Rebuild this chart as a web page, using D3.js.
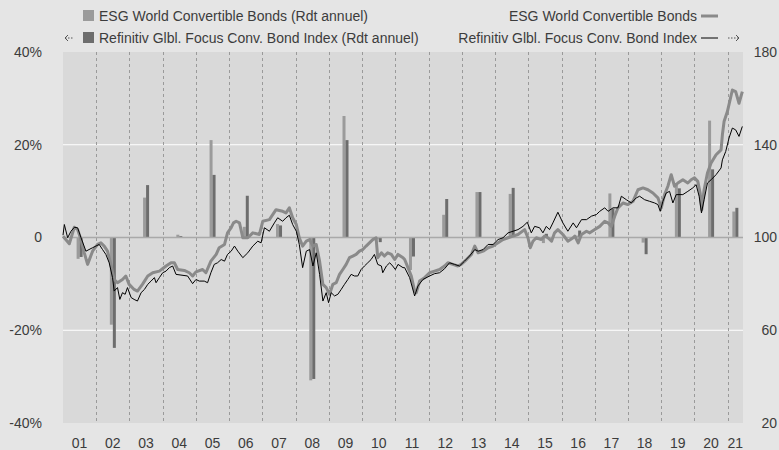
<!DOCTYPE html>
<html>
<head>
<meta charset="utf-8">
<script src="https://cdn.jsdelivr.net/npm/d3@7"></script>
<style>
  body { margin: 0; background: #e5e5e5; }
  svg { display: block; font-family: "Liberation Sans", Arial, sans-serif; }
</style>
</head>
<body>
<svg id="chart" width="779" height="450"></svg>
<script>
// annual returns (bars), in %
var years = [2001, 2002, 2003, 2004, 2005, 2006, 2007, 2008, 2009, 2010, 2011,
             2012, 2013, 2014, 2015, 2016, 2017, 2018, 2019, 2020, 2021];
var esgAnnual = [-4.6, -18.8, 8.6, 0.6, 21.0, 2.3, 2.9, -30.8, 26.2, -0.4, -7.0,
                 4.9, 9.8, 9.4, -1.2, 0.4, 9.5, -1.1, 11.7, 25.2, 5.6];
var refAnnual = [-4.2, -23.8, 11.3, 0.3, 13.5, 9.0, 2.6, -30.5, 21.0, -1.0, -4.1,
                 8.3, 9.8, 10.7, 0.8, 1.5, 6.2, -3.6, 10.6, 14.7, 6.4];

// index levels (lines), [decimal year, value]
var esgIndex = [
  [2001.00, 100.5], [2001.19, 97.3], [2001.34, 104.4], [2001.44, 103.4], [2001.54, 99.1],
  [2001.64, 93.4], [2001.74, 88.4], [2001.89, 94.1], [2002.04, 97.0], [2002.14, 97.7],
  [2002.24, 96.3], [2002.34, 94.1], [2002.44, 88.4], [2002.54, 81.9], [2002.64, 80.5],
  [2002.79, 81.9], [2002.89, 83.4], [2002.99, 79.8], [2003.14, 77.6], [2003.24, 76.9],
  [2003.39, 79.8], [2003.55, 83.4], [2003.70, 84.8], [2003.90, 85.5], [2004.10, 87.7],
  [2004.25, 89.1], [2004.35, 89.1], [2004.45, 86.2], [2004.65, 85.8], [2004.80, 84.8],
  [2004.90, 83.4], [2005.00, 85.2], [2005.20, 86.2], [2005.30, 84.8], [2005.45, 89.8],
  [2005.61, 92.7], [2005.70, 95.6], [2005.86, 97.0], [2005.95, 102.0], [2006.05, 104.0],
  [2006.13, 106.3], [2006.21, 107.0], [2006.31, 106.3], [2006.41, 99.9], [2006.56, 99.9],
  [2006.71, 102.0], [2006.91, 101.3], [2007.01, 107.0], [2007.21, 107.7], [2007.41, 112.0],
  [2007.61, 111.3], [2007.71, 110.6], [2007.81, 112.8], [2007.91, 108.5], [2008.02, 105.6],
  [2008.11, 99.9], [2008.21, 96.3], [2008.32, 98.4], [2008.42, 99.1], [2008.52, 96.3],
  [2008.62, 97.0], [2008.72, 89.8], [2008.82, 79.8], [2008.92, 78.4], [2009.02, 75.5],
  [2009.12, 79.8], [2009.22, 80.5], [2009.32, 84.1], [2009.42, 86.2], [2009.52, 88.4],
  [2009.62, 91.3], [2009.72, 92.0], [2009.82, 92.7], [2009.92, 94.1], [2010.02, 94.8],
  [2010.12, 96.3], [2010.22, 97.7], [2010.32, 99.1], [2010.42, 99.9], [2010.47, 91.3],
  [2010.58, 93.4], [2010.67, 92.0], [2010.77, 93.4], [2010.88, 92.7], [2010.98, 90.5],
  [2011.08, 92.7], [2011.23, 91.3], [2011.28, 90.5], [2011.38, 87.0], [2011.48, 83.4],
  [2011.58, 76.9], [2011.63, 76.2], [2011.73, 81.2], [2011.88, 82.7], [2012.03, 84.8],
  [2012.18, 85.5], [2012.33, 86.2], [2012.48, 87.7], [2012.58, 89.1], [2012.73, 88.4],
  [2012.88, 87.7], [2012.98, 88.4], [2013.14, 90.5], [2013.29, 92.7], [2013.39, 96.3],
  [2013.49, 93.4], [2013.64, 94.1], [2013.79, 95.6], [2013.94, 96.3], [2014.09, 97.7],
  [2014.24, 99.1], [2014.39, 99.9], [2014.54, 100.6], [2014.69, 101.3], [2014.89, 103.4],
  [2014.99, 99.9], [2015.06, 95.6], [2015.14, 98.4], [2015.24, 99.9], [2015.39, 99.1],
  [2015.49, 100.6], [2015.59, 99.9], [2015.70, 98.4], [2015.79, 102.0], [2015.89, 103.4],
  [2016.04, 101.3], [2016.19, 98.4], [2016.35, 99.9], [2016.40, 100.6], [2016.50, 97.7],
  [2016.60, 101.3], [2016.75, 102.7], [2016.85, 102.0], [2017.00, 103.4], [2017.15, 104.8],
  [2017.30, 107.0], [2017.40, 106.3], [2017.50, 104.8], [2017.60, 109.2], [2017.70, 112.8],
  [2017.85, 114.9], [2018.00, 114.2], [2018.15, 115.6], [2018.30, 120.6], [2018.45, 121.4],
  [2018.60, 120.6], [2018.75, 119.2], [2018.90, 117.1], [2019.00, 112.8], [2019.10, 118.5],
  [2019.20, 122.1], [2019.30, 127.1], [2019.40, 122.1], [2019.50, 123.5], [2019.65, 124.9],
  [2019.80, 123.5], [2019.90, 124.9], [2020.00, 125.7], [2020.10, 124.2], [2020.17, 119.2],
  [2020.22, 112.0], [2020.29, 120.6], [2020.39, 127.8], [2020.50, 132.1], [2020.65, 135.7],
  [2020.80, 137.8], [2020.84, 144.3], [2020.89, 150.0], [2020.99, 154.3], [2021.14, 163.6],
  [2021.24, 162.9], [2021.34, 157.9], [2021.44, 162.9]
];
var refIndex = [
  [2001.00, 101.0], [2001.04, 105.6], [2001.14, 99.9], [2001.24, 102.7], [2001.34, 104.4],
  [2001.44, 104.2], [2001.54, 100.0], [2001.69, 94.1], [2001.89, 95.6], [2001.99, 96.3],
  [2002.09, 97.0], [2002.19, 94.8], [2002.29, 92.7], [2002.39, 89.1], [2002.49, 82.7],
  [2002.54, 76.9], [2002.64, 78.4], [2002.71, 73.3], [2002.79, 76.2], [2002.87, 75.5],
  [2002.94, 78.4], [2003.05, 74.1], [2003.14, 73.3], [2003.24, 72.6], [2003.35, 76.2],
  [2003.45, 77.6], [2003.55, 79.8], [2003.65, 81.2], [2003.75, 82.7], [2003.80, 80.5],
  [2003.90, 82.7], [2004.00, 84.8], [2004.10, 85.5], [2004.20, 87.0], [2004.30, 87.7],
  [2004.40, 84.1], [2004.55, 83.8], [2004.75, 83.4], [2004.90, 80.1], [2005.00, 81.9],
  [2005.10, 81.2], [2005.25, 81.2], [2005.35, 80.5], [2005.45, 84.8], [2005.55, 88.4],
  [2005.65, 89.1], [2005.76, 90.5], [2005.86, 89.8], [2005.95, 92.7], [2006.06, 94.1],
  [2006.16, 96.3], [2006.26, 94.1], [2006.41, 91.3], [2006.56, 93.4], [2006.71, 96.3],
  [2006.86, 98.4], [2006.96, 97.7], [2007.06, 104.2], [2007.21, 102.7], [2007.36, 106.3],
  [2007.46, 108.5], [2007.61, 107.0], [2007.71, 108.5], [2007.81, 109.6], [2007.91, 105.6],
  [2008.02, 102.7], [2008.11, 97.0], [2008.21, 87.0], [2008.32, 94.1], [2008.42, 94.8],
  [2008.52, 87.7], [2008.62, 93.4], [2008.72, 84.1], [2008.82, 72.6], [2008.92, 76.2],
  [2008.99, 71.9], [2009.07, 76.2], [2009.17, 74.8], [2009.27, 75.5], [2009.37, 77.6],
  [2009.47, 79.8], [2009.57, 81.9], [2009.67, 84.1], [2009.77, 83.4], [2009.87, 83.4],
  [2009.97, 86.2], [2010.07, 87.7], [2010.17, 89.1], [2010.27, 90.5], [2010.37, 92.7],
  [2010.47, 88.4], [2010.58, 87.7], [2010.62, 84.8], [2010.73, 87.7], [2010.83, 89.1],
  [2010.92, 87.7], [2011.00, 86.2], [2011.08, 88.4], [2011.23, 87.0], [2011.28, 87.0],
  [2011.43, 82.7], [2011.58, 74.8], [2011.68, 79.1], [2011.83, 81.9], [2012.03, 83.4],
  [2012.18, 84.4], [2012.33, 84.8], [2012.48, 86.5], [2012.63, 89.1], [2012.78, 88.4],
  [2012.93, 87.7], [2013.08, 89.8], [2013.23, 92.0], [2013.39, 94.8], [2013.49, 94.1],
  [2013.64, 94.8], [2013.79, 97.0], [2013.94, 97.0], [2014.09, 99.1], [2014.24, 99.9],
  [2014.39, 102.0], [2014.54, 102.7], [2014.69, 103.4], [2014.84, 104.8], [2014.97, 106.6],
  [2015.09, 102.0], [2015.19, 104.8], [2015.34, 104.2], [2015.44, 102.0], [2015.54, 104.8],
  [2015.64, 103.4], [2015.74, 106.3], [2015.89, 110.9], [2016.04, 106.3], [2016.19, 102.7],
  [2016.35, 106.3], [2016.45, 104.2], [2016.60, 107.7], [2016.75, 107.7], [2016.90, 109.2],
  [2017.05, 109.9], [2017.15, 111.3], [2017.30, 112.8], [2017.40, 111.3], [2017.55, 112.8],
  [2017.70, 112.8], [2017.80, 117.8], [2017.95, 116.3], [2018.10, 114.9], [2018.25, 117.1],
  [2018.35, 117.8], [2018.50, 116.3], [2018.65, 115.6], [2018.80, 114.9], [2018.90, 114.2],
  [2018.97, 111.3], [2019.05, 115.6], [2019.15, 119.2], [2019.25, 119.9], [2019.35, 114.9],
  [2019.45, 118.5], [2019.65, 118.5], [2019.80, 119.9], [2019.95, 121.4], [2020.05, 122.8],
  [2020.14, 117.8], [2020.21, 110.6], [2020.29, 116.3], [2020.39, 123.5], [2020.50, 124.9],
  [2020.65, 127.1], [2020.80, 130.0], [2020.84, 133.5], [2020.94, 137.1], [2021.04, 142.9],
  [2021.14, 147.2], [2021.24, 146.4], [2021.34, 143.6], [2021.44, 147.9]
];

var leftTicks = [-40, -20, 0, 20, 40];
var rightTicks = [20, 60, 100, 140, 180];
var yearLabels = ["01", "02", "03", "04", "05", "06", "07", "08", "09", "10", "11",
                  "12", "13", "14", "15", "16", "17", "18", "19", "20", "21"];

var plot = {left: 63, right: 743, top: 52, bottom: 423},
  lastDate = 2021.46,
  textColor = "#3c3c3c";

var svg = d3.select("#chart");

var x = d3.scaleLinear().domain([2001, lastDate]).range([plot.left, plot.right]);
var yL = d3.scaleLinear().domain([-40, 40]).range([plot.bottom, plot.top]);
var yR = d3.scaleLinear().domain([20, 180]).range([plot.bottom, plot.top]);

// plot background
svg.append("rect")
  .attr("x", plot.left).attr("y", plot.top)
  .attr("width", plot.right - plot.left).attr("height", plot.bottom - plot.top)
  .attr("fill", "#d9d9d9");

// white gridlines at +-20%
svg.selectAll(".grid")
  .data([-20, 20]).enter()
  .append("line")
  .attr("x1", plot.left).attr("x2", plot.right)
  .attr("y1", function(d) { return yL(d); })
  .attr("y2", function(d) { return yL(d); })
  .attr("stroke", "#ffffff").attr("stroke-width", 1.2);

// dashed year separators
svg.selectAll(".sep")
  .data(years.slice(1)).enter()
  .append("line")
  .attr("x1", function(d) { return Math.round(x(d)) + 0.5; })
  .attr("x2", function(d) { return Math.round(x(d)) + 0.5; })
  .attr("y1", plot.top).attr("y2", plot.bottom)
  .attr("stroke", "#9a9a9a").attr("stroke-width", 1)
  .attr("stroke-dasharray", "3,3");

// year band centre (last year is partial)
function bandCenter(yr) {
  var end = Math.min(yr + 1, lastDate);
  return x((yr + end) / 2);
}

// bars
var barW = 3;
svg.selectAll(".barEsg")
  .data(years).enter()
  .append("rect")
  .attr("x", function(d) { return bandCenter(d) - barW; })
  .attr("width", barW)
  .attr("y", function(d, i) { return yL(Math.max(0, esgAnnual[i])); })
  .attr("height", function(d, i) { return Math.abs(yL(esgAnnual[i]) - yL(0)); })
  .attr("fill", "#9b9b9b");

svg.selectAll(".barRef")
  .data(years).enter()
  .append("rect")
  .attr("x", function(d) { return bandCenter(d); })
  .attr("width", barW)
  .attr("y", function(d, i) { return yL(Math.max(0, refAnnual[i])); })
  .attr("height", function(d, i) { return Math.abs(yL(refAnnual[i]) - yL(0)); })
  .attr("fill", "#6d6d6d");

// zero line
svg.append("line")
  .attr("x1", plot.left).attr("x2", plot.right)
  .attr("y1", yL(0)).attr("y2", yL(0))
  .attr("stroke", "#a9a9a9").attr("stroke-width", 1.5);

// index lines
var line = d3.line()
  .x(function(d) { return x(d[0]); })
  .y(function(d) { return yR(d[1]); });

svg.append("path")
  .datum(esgIndex)
  .attr("d", line)
  .attr("fill", "none")
  .attr("stroke", "#8a8a8a")
  .attr("stroke-width", 3)
  .attr("stroke-linejoin", "round");

svg.append("path")
  .datum(refIndex)
  .attr("d", line)
  .attr("fill", "none")
  .attr("stroke", "#000000")
  .attr("stroke-width", 1);

// left axis labels
svg.selectAll(".lt")
  .data(leftTicks).enter()
  .append("text")
  .attr("x", 42)
  .attr("y", function(d) { return yL(d); })
  .attr("dy", "0.35em")
  .attr("text-anchor", "end")
  .attr("font-size", 14)
  .attr("fill", textColor)
  .text(function(d) { return d === 0 ? "0" : d + "%"; });

// right axis labels
svg.selectAll(".rt")
  .data(rightTicks).enter()
  .append("text")
  .attr("x", 777)
  .attr("y", function(d) { return yR(d); })
  .attr("dy", "0.35em")
  .attr("text-anchor", "end")
  .attr("font-size", 14)
  .attr("fill", textColor)
  .text(function(d) { return d; });

// year labels
svg.selectAll(".xl")
  .data(years).enter()
  .append("text")
  .attr("x", function(d) { return bandCenter(d); })
  .attr("y", 443)
  .attr("dy", "0.35em")
  .attr("text-anchor", "middle")
  .attr("font-size", 14)
  .attr("fill", textColor)
  .text(function(d, i) { return yearLabels[i]; });

// legend left (bars)
var legL = svg.append("g");
legL.append("rect").attr("x", 83).attr("y", 10).attr("width", 11).attr("height", 11).attr("fill", "#9b9b9b");
legL.append("rect").attr("x", 83).attr("y", 32).attr("width", 11).attr("height", 11).attr("fill", "#6d6d6d");
legL.append("text").attr("x", 99).attr("y", 16).attr("dy", "0.35em")
  .attr("font-size", 14).attr("fill", textColor)
  .text("ESG World Convertible Bonds (Rdt annuel)");
legL.append("text").attr("x", 99).attr("y", 38).attr("dy", "0.35em")
  .attr("font-size", 14).attr("fill", textColor)
  .text("Refinitiv Glbl. Focus Conv. Bond Index (Rdt annuel)");
// dotted left arrow
legL.append("line").attr("x1", 65).attr("x2", 73).attr("y1", 38).attr("y2", 38)
  .attr("stroke", "#555").attr("stroke-width", 1).attr("stroke-dasharray", "1.5,1.5");
legL.append("path").attr("d", "M68,35 L65,38 L68,41")
  .attr("fill", "none").attr("stroke", "#555").attr("stroke-width", 1);

// legend right (lines)
var legR = svg.append("g");
legR.append("text").attr("x", 697).attr("y", 16).attr("dy", "0.35em")
  .attr("text-anchor", "end").attr("font-size", 14).attr("fill", textColor)
  .text("ESG World Convertible Bonds");
legR.append("text").attr("x", 697).attr("y", 38).attr("dy", "0.35em")
  .attr("text-anchor", "end").attr("font-size", 14).attr("fill", textColor)
  .text("Refinitiv Glbl. Focus Conv. Bond Index");
legR.append("line").attr("x1", 701).attr("x2", 718).attr("y1", 16).attr("y2", 16)
  .attr("stroke", "#8a8a8a").attr("stroke-width", 3);
legR.append("line").attr("x1", 701).attr("x2", 718).attr("y1", 38).attr("y2", 38)
  .attr("stroke", "#000").attr("stroke-width", 1);
legR.append("line").attr("x1", 728).attr("x2", 738).attr("y1", 38).attr("y2", 38)
  .attr("stroke", "#555").attr("stroke-width", 1).attr("stroke-dasharray", "1.5,1.5");
legR.append("path").attr("d", "M736,35 L739,38 L736,41")
  .attr("fill", "none").attr("stroke", "#555").attr("stroke-width", 1);
</script>
</body>
</html>
